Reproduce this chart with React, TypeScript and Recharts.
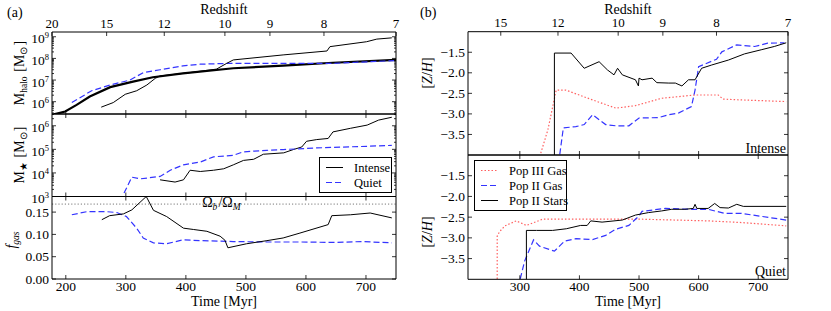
import React from 'react';
import { LineChart, Line, XAxis, YAxis, ReferenceLine, Legend, Customized } from 'recharts';

const FONT = '"Liberation Serif", "Times New Roman", serif';
const W = 831;
const H = 311;

// ---- axes ----
const timeTicksLeft = [200, 300, 400, 500, 600, 700];
const timeTicksRight = [300, 400, 500, 600, 700];
const zTimesLeft = [177, 268, 364, 465, 540, 630, 750];
const zLabelsLeft = ['20', '15', '12', '10', '9', '8', '7'];
const zTimesRight = [268, 364, 465, 540, 630, 750];
const zLabelsRight = ['15', '12', '10', '9', '8', '7'];
const fgasTicks = [0, 0.05, 0.1, 0.15];
const fgasLabels = ['0.00', '0.05', '0.10', '0.15'];
const zhTicks = [-3.5, -3, -2.5, -2, -1.5];
const zhLabels = ['\u22123.5', '\u22123.0', '\u22122.5', '\u22122.0', '\u22121.5'];
const OMEGA_B_M = 0.168;

// ---- halo mass [Msun] vs time [Myr] ----
const refHalo: [number, number][] = [
  [180, 2.6e5], [199, 3.5e5], [218, 7.1e5], [240, 1.74e6], [274, 4.7e6], [312, 8.5e6],
  [345, 1.35e7], [395, 2.04e7], [479, 3.5e7], [562, 4.6e7], [645, 6.3e7], [750, 8.5e7],
];
const quietHalo: [number, number][] = [
  [210, 9.1e5], [243, 3.2e6], [274, 5.9e6], [307, 1.0e7], [329, 2.2e7], [357, 3.0e7],
  [395, 4.5e7], [424, 5.4e7], [474, 5.9e7], [535, 5.9e7], [645, 5.9e7], [750, 8.0e7],
];
const intenseHalo: [number, number][] = [
  [259, 5.6e5], [279, 9.1e5], [299, 2.2e6], [318, 3.2e6], [335, 5.9e6], [349, 1.2e7],
  [357, 1.55e7], [400, 2.1e7], [451, 3.2e7], [468, 5.9e7], [479, 8.5e7], [562, 1.45e8],
  [635, 2.2e8], [640, 3.5e8], [701, 5.9e8], [718, 7.8e8], [743, 8.9e8],
];

// ---- stellar mass [Msun] ----
const intenseStar: [number, number][] = [
  [357, 5.1e3], [382, 4.1e3], [396, 5.1e3], [407, 1.3e4], [424, 1.15e4], [446, 1.3e4],
  [463, 1.5e4], [479, 2.2e4], [496, 3.4e4], [513, 3.8e4], [529, 6.2e4], [563, 7.1e4],
  [579, 9.8e4], [593, 1.26e5], [601, 2.2e5], [618, 2.6e5], [637, 2.9e5], [645, 5.5e5],
  [674, 7.8e5], [702, 1.07e6], [721, 1.74e6], [743, 2.3e6],
];
const quietStar: [number, number][] = [
  [297, 1.4e3], [310, 6.6e3], [324, 5.6e3], [357, 7.1e3], [374, 1.3e4], [396, 2.2e4],
  [424, 2.9e4], [446, 4.8e4], [479, 5.6e4], [495, 7.8e4], [535, 9.1e4], [562, 9.8e4],
  [618, 1.15e5], [702, 1.35e5], [743, 1.48e5],
];

// ---- gas fraction ----
const intenseGas: [number, number][] = [
  [260, 0.133], [273, 0.142], [296, 0.146], [310, 0.155], [334, 0.185], [346, 0.154],
  [368, 0.14], [396, 0.114], [413, 0.111], [435, 0.107], [457, 0.096], [465, 0.087],
  [470, 0.07], [501, 0.079], [535, 0.086], [562, 0.092], [590, 0.103], [637, 0.122],
  [643, 0.142], [674, 0.144], [707, 0.148], [743, 0.137],
];
const quietGas: [number, number][] = [
  [210, 0.144], [235, 0.151], [268, 0.151], [285, 0.149], [301, 0.14], [318, 0.114],
  [329, 0.092], [346, 0.081], [368, 0.079], [396, 0.088], [424, 0.086], [479, 0.084],
  [535, 0.083], [590, 0.083], [645, 0.082], [695, 0.084], [743, 0.081],
];

// ---- metallicity, intense ----
const intPop3Gas: [number, number][] = [
  [330, -4.2], [347, -3.39], [361, -2.42], [377, -2.42], [422, -2.66], [461, -2.86],
  [494, -2.8], [538, -2.62], [594, -2.54], [633, -2.54], [641, -2.64], [672, -2.66], [747, -2.7],
];
const intPop2Gas: [number, number][] = [
  [365, -4.2], [373, -3.34], [394, -3.31], [408, -3.26], [422, -3.02], [444, -3.26],
  [461, -3.29], [483, -3.29], [500, -3.1], [533, -3.09], [550, -3.02], [566, -2.98],
  [588, -2.82], [594, -2.42], [600, -1.85], [630, -1.67], [639, -1.49], [664, -1.32],
  [694, -1.36], [716, -1.28], [744, -1.27],
];
const intPop2Stars: [number, number][] = [
  [358, -4.5], [358, -1.52], [386, -1.52], [408, -1.89], [433, -1.73], [447, -1.93],
  [458, -2.05], [464, -1.89], [472, -2.05], [494, -2.17], [499, -2.32], [500, -2.13],
  [505, -2.17], [522, -2.13], [530, -2.24], [550, -2.25], [561, -2.25], [572, -2.32],
  [583, -2.17], [594, -2.17], [605, -1.89], [622, -1.81], [650, -1.69], [677, -1.54],
  [705, -1.44], [727, -1.36], [747, -1.27],
];

// ---- metallicity, quiet ----
const qPop3Gas: [number, number][] = [
  [262, -4.5], [262, -2.96], [266, -2.85], [275, -2.71], [294, -2.59], [311, -2.7],
  [338, -2.55], [394, -2.55], [505, -2.55], [616, -2.59], [672, -2.63], [747, -2.71],
];
const qPop2Gas: [number, number][] = [
  [297, -4.2], [308, -3.56], [323, -3.05], [333, -3.2], [358, -3.32], [375, -3.08],
  [394, -3.02], [422, -3.04], [444, -2.94], [461, -2.79], [483, -2.7], [500, -2.47],
  [505, -2.36], [544, -2.29], [588, -2.31], [616, -2.31], [644, -2.41], [672, -2.41], [747, -2.57],
];
const qPop2Stars: [number, number][] = [
  [311, -4.5], [311, -2.82], [328, -2.82], [355, -2.82], [378, -2.78], [402, -2.7],
  [413, -2.7], [419, -2.59], [438, -2.62], [472, -2.57], [494, -2.45], [516, -2.39],
  [538, -2.35], [555, -2.31], [577, -2.31], [591, -2.29], [594, -2.19], [597, -2.29],
  [616, -2.29], [627, -2.17], [636, -2.27], [650, -2.28], [664, -2.19], [675, -2.24], [747, -2.24],
];

const rows = (pts: [number, number][]) => pts.map(([t, v]) => ({ t, v }));

const BLUE = '#3434ff';
const RED = '#ff5f5f';
const STYLE: Record<string, any> = {
  Intense: { stroke: '#000', strokeWidth: 1 },
  Quiet: { stroke: BLUE, strokeWidth: 1.2, strokeDasharray: '6 3' },
  'Pop III Gas': { stroke: RED, strokeWidth: 1.2, strokeDasharray: '1.5 2' },
  'Pop II Gas': { stroke: BLUE, strokeWidth: 1.2, strokeDasharray: '6 3' },
  'Pop II Stars': { stroke: '#000', strokeWidth: 1 },
};
const LEGEND_ORDER = ['Intense', 'Quiet', 'Pop III Gas', 'Pop II Gas', 'Pop II Stars'];

const TXT = { fontFamily: FONT, fontSize: 13.5, fill: '#000' };

function series(name: string, pts: [number, number][], extra: any = {}) {
  return (
    <Line
      key={name + pts[0][0]}
      name={name}
      data={rows(pts)}
      dataKey="v"
      type="linear"
      dot={false}
      activeDot={false}
      isAnimationActive={false}
      legendType="line"
      {...STYLE[name]}
      {...extra}
    />
  );
}

const isMajor = (v: number) => {
  const l = Math.log10(v);
  return Math.abs(l - Math.round(l)) < 1e-6;
};

function logTicks(lo: number, hi: number) {
  const out: number[] = [];
  for (let e = Math.floor(Math.log10(lo)); e <= Math.ceil(Math.log10(hi)); e++) {
    for (let m = 1; m <= 9; m++) {
      const v = m * Math.pow(10, e);
      if (v >= lo && v <= hi) out.push(v);
    }
  }
  return out;
}

const pow10Label = (v: number) => (
  <>
    <tspan>10</tspan>
    <tspan dy={-5} fontSize={8.5}>{Math.round(Math.log10(v))}</tspan>
  </>
);

type PanelProps = {
  x0: number; x1: number; y0: number; y1: number;
  xDomain: [number, number];
  xTicks: number[];
  xLabels?: boolean;
  topTicks: number[];
  topLabels?: string[];
  yDomain: [number, number];
  yLog?: boolean;
  yTicks: number[];
  yLabels?: string[];
  children: React.ReactNode;
};

function Panel(p: PanelProps) {
  // axes get 1px of room each (zero-size axes are not drawn)
  const margin = { left: p.x0 - 1, right: W - p.x1 - 1, top: p.y0 - 1, bottom: H - p.y1 - 1 };
  const bottomTick = (t: any) => (
    <g>
      <line x1={t.x} x2={t.x} y1={t.y} y2={t.y - 4} stroke="#000" strokeWidth={0.8} />
      {p.xLabels && (
        <text x={t.x} y={t.y + 11.5} textAnchor="middle" {...TXT}>{t.payload.value}</text>
      )}
    </g>
  );
  const topTick = (t: any) => {
    const i = p.topTicks.indexOf(t.payload.value);
    return (
      <g>
        <line x1={t.x} x2={t.x} y1={t.y} y2={t.y + 4} stroke="#000" strokeWidth={0.8} />
        {p.topLabels && (
          <text x={t.x} y={t.y - 4.5} textAnchor="middle" {...TXT} fontSize={13}>{p.topLabels[i]}</text>
        )}
      </g>
    );
  };
  const leftTick = (t: any) => {
    const v = t.payload.value;
    const major = !p.yLog || isMajor(v);
    let label: React.ReactNode = null;
    if (major) label = p.yLog ? pow10Label(v) : p.yLabels?.[p.yTicks.indexOf(v)];
    return (
      <g>
        <line x1={t.x} x2={t.x + (major ? 4 : 2)} y1={t.y} y2={t.y} stroke="#000" strokeWidth={0.8} />
        {label != null && (
          <text x={t.x - 3} y={t.y + (p.yLog ? 6.5 : 4.5)} textAnchor="end" {...TXT}>{label}</text>
        )}
      </g>
    );
  };
  const rightTick = (t: any) => {
    const major = !p.yLog || isMajor(t.payload.value);
    return <line x1={t.x} x2={t.x - (major ? 4 : 2)} y1={t.y} y2={t.y} stroke="#000" strokeWidth={0.8} />;
  };
  const yCommon = {
    type: 'number' as const,
    domain: p.yDomain,
    scale: p.yLog ? ('log' as const) : ('linear' as const),
    ticks: p.yTicks,
    interval: 0 as const,
    allowDataOverflow: true,
    width: 1,
    tickSize: 0,
    tickMargin: 0,
    tickLine: false,
    axisLine: { stroke: '#000', strokeWidth: 1 },
  };
  return (
    <div style={{ position: 'absolute', left: 0, top: 0 }}>
      <LineChart width={W} height={H} margin={margin}>
        <XAxis
          xAxisId={0}
          dataKey="t"
          type="number"
          domain={p.xDomain}
          ticks={p.xTicks}
          interval={0}
          allowDataOverflow
          height={1}
          tickSize={0}
          tickMargin={0}
          tickLine={false}
          axisLine={{ stroke: '#000', strokeWidth: 1 }}
          tick={bottomTick}
        />
        <XAxis
          xAxisId="top"
          orientation="top"
          dataKey="t"
          type="number"
          domain={p.xDomain}
          ticks={p.topTicks}
          interval={0}
          allowDataOverflow
          height={1}
          tickSize={0}
          tickMargin={0}
          tickLine={false}
          axisLine={{ stroke: '#000', strokeWidth: 1 }}
          tick={topTick}
        />
        <YAxis yAxisId={0} {...yCommon} tick={leftTick} />
        <YAxis yAxisId="r" orientation="right" {...yCommon} tick={rightTick} />
        {p.children}
      </LineChart>
    </div>
  );
}

function legendContent(x: number, y: number, w: number, rowH: number) {
  return (props: any) => {
    const items = ((props.payload || []) as any[])
      .slice()
      .sort((a, b) => LEGEND_ORDER.indexOf(a.value) - LEGEND_ORDER.indexOf(b.value));
    const h = items.length * rowH + 6;
    return (
      <svg width={w} height={h} style={{ position: 'absolute', left: x, top: y, overflow: 'visible' }}>
        <rect x={0.5} y={0.5} width={w - 1} height={h - 1} fill="#fff" stroke="#000" strokeWidth={1} />
        {items.map((it, i) => {
          const cy = 3 + rowH * (i + 0.5);
          const st = STYLE[it.value] || {};
          return (
            <g key={it.value}>
              <line x1={7} x2={24} y1={cy} y2={cy} {...st} />
              <text x={35} y={cy + 4} fontFamily={FONT} fontSize={12.5} fill="#000">{it.value}</text>
            </g>
          );
        })}
      </svg>
    );
  };
}

const rotLabel = (x: number, y: number, content: React.ReactNode) => (
  <text transform={`translate(${x},${y}) rotate(-90)`} textAnchor="middle" {...TXT} fontSize={14}>
    {content}
  </text>
);

const sub = (s: string, italic = false) => (
  <>
    <tspan dy={3} fontSize={9.5} fontStyle={italic ? 'italic' : 'normal'}>{s}</tspan>
    <tspan dy={-3}>{'\u200a'}</tspan>
  </>
);

export default function App() {
  const L = { x0: 52, x1: 396, xDomain: [177, 750] as [number, number] };
  const R = { x0: 468, x1: 788, xDomain: [213, 750] as [number, number] };
  const mTop: [number, number] = [2.7e5, 1.66e9];
  const mStar: [number, number] = [1e3, 3.16e6];
  return (
    <div style={{ position: 'absolute', left: 0, top: 0, width: W, height: H, background: '#fff', overflow: 'hidden' }}>
      {/* left, halo mass */}
      <Panel {...L} y0={32} y1={114} xTicks={timeTicksLeft} topTicks={zTimesLeft} topLabels={zLabelsLeft}
        yDomain={mTop} yLog yTicks={logTicks(mTop[0], mTop[1])}>
        {series('Intense', refHalo, { strokeWidth: 2.2, legendType: 'none', key: 'ref' })}
        {series('Quiet', quietHalo)}
        {series('Intense', intenseHalo)}
        <Customized
          component={() => (
            <g>
              <text x={7} y={17} {...TXT} fontSize={14}>(a)</text>
              <text x={224} y={13.5} textAnchor="middle" {...TXT} fontSize={14}>Redshift</text>
              <text x={420} y={17} {...TXT} fontSize={14}>(b)</text>
              <text x={628} y={13.5} textAnchor="middle" {...TXT} fontSize={14}>Redshift</text>
              {rotLabel(24, 73, <>M{sub('halo')} [M{sub('\u2299')}]</>)}
            </g>
          )}
        />
      </Panel>
      {/* left, stellar mass */}
      <Panel {...L} y0={114} y1={196.5} xTicks={timeTicksLeft} topTicks={timeTicksLeft}
        yDomain={mStar} yLog yTicks={logTicks(mStar[0], mStar[1])}>
        {series('Intense', intenseStar)}
        {series('Quiet', quietStar)}
        <Legend layout="vertical" align="center" verticalAlign="middle"
          wrapperStyle={{ position: 'absolute', left: 0, top: 0, width: 0, height: 0 }}
          content={legendContent(319, 157, 73, 15)} />
        <Customized component={() => rotLabel(24, 155, <>M{sub('\u2605')} [M{sub('\u2299')}]</>)} />
      </Panel>
      {/* left, gas fraction */}
      <Panel {...L} y0={196.5} y1={279} xTicks={timeTicksLeft} xLabels topTicks={timeTicksLeft}
        yDomain={[0, 0.185]} yTicks={fgasTicks} yLabels={fgasLabels}>
        <ReferenceLine y={OMEGA_B_M} stroke="#777" strokeDasharray="1.2 2" strokeWidth={1}
          label={(lp: any) => (
            <text x={222} y={(lp.viewBox?.y ?? 204) + 3} textAnchor="middle" {...TXT} fontSize={14}>
              {'\u03a9'}{sub('b', true)}/{'\u03a9'}{sub('M', true)}
            </text>
          )} />
        {series('Quiet', quietGas)}
        {series('Intense', intenseGas)}
        <Customized
          component={() => (
            <g>
              <text x={224} y={306} textAnchor="middle" {...TXT} fontSize={14}>Time [Myr]</text>
              <text transform="translate(16,240) rotate(-90)" textAnchor="middle" {...TXT} fontSize={14}>
                <tspan fontStyle="italic">f</tspan>
                <tspan dy={3} fontSize={9.5} fontStyle="italic">gas</tspan>
              </text>
            </g>
          )}
        />
      </Panel>
      {/* right, intense metallicity */}
      <Panel {...R} y0={31.7} y1={155} xTicks={timeTicksRight} topTicks={zTimesRight} topLabels={zLabelsRight}
        yDomain={[-4, -1]} yTicks={zhTicks} yLabels={zhLabels}>
        {series('Pop III Gas', intPop3Gas)}
        {series('Pop II Gas', intPop2Gas)}
        {series('Pop II Stars', intPop2Stars)}
        <Customized
          component={() => (
            <g>
              <text x={786} y={153} textAnchor="end" {...TXT} fontSize={14}>Intense</text>
              {rotLabel(432, 73, <>[<tspan fontStyle="italic">Z</tspan>/<tspan fontStyle="italic">H</tspan>]</>)}
            </g>
          )}
        />
      </Panel>
      {/* right, quiet metallicity */}
      <Panel {...R} y0={155} y1={279.3} xTicks={timeTicksRight} xLabels topTicks={timeTicksRight}
        yDomain={[-4, -1]} yTicks={zhTicks} yLabels={zhLabels}>
        {series('Pop III Gas', qPop3Gas)}
        {series('Pop II Gas', qPop2Gas)}
        {series('Pop II Stars', qPop2Stars)}
        <Legend layout="vertical" align="center" verticalAlign="middle"
          wrapperStyle={{ position: 'absolute', left: 0, top: 0, width: 0, height: 0 }}
          content={legendContent(474, 160, 93, 15)} />
        <Customized
          component={() => (
            <g>
              <text x={786} y={276} textAnchor="end" {...TXT} fontSize={14}>Quiet</text>
              <text x={628} y={306} textAnchor="middle" {...TXT} fontSize={14}>Time [Myr]</text>
              {rotLabel(432, 232, <>[<tspan fontStyle="italic">Z</tspan>/<tspan fontStyle="italic">H</tspan>]</>)}
            </g>
          )}
        />
      </Panel>
    </div>
  );
}
